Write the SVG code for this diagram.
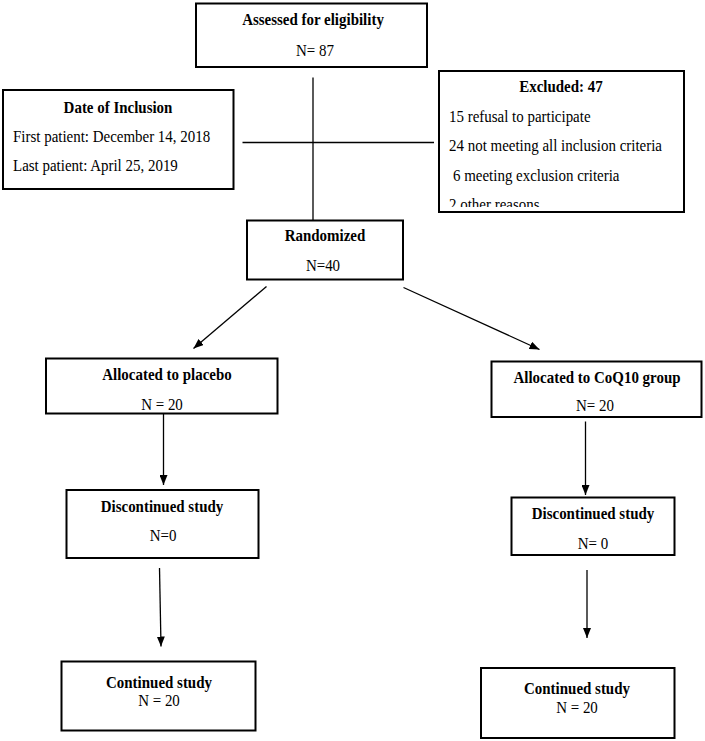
<svg xmlns="http://www.w3.org/2000/svg" width="705" height="741" viewBox="0 0 705 741">
<style>
.box{fill:#fff;stroke:#000;stroke-width:2}
.ln{fill:none;stroke:#000;stroke-width:1.3}
text{font-family:"Liberation Serif","Times New Roman",serif;font-size:17px;fill:#000}
.b{font-weight:bold}
.c{text-anchor:middle}
</style>
<defs>
<marker id="ah" markerUnits="userSpaceOnUse" markerWidth="11" markerHeight="8" refX="10" refY="4" orient="auto">
<path d="M0,0 L10,4 L0,8 z" fill="#000"/>
</marker>
<clipPath id="exclip"><rect x="440" y="185" width="244" height="22"/></clipPath>
</defs>
<rect width="705" height="741" fill="#fff"/>
<g id="connectors">
<line class="ln" x1="313" y1="77.5" x2="313" y2="220.5"/>
<line class="ln" x1="242.5" y1="142.5" x2="434" y2="142.5"/>
<line class="ln" x1="266.5" y1="286.5" x2="193.5" y2="348.5" marker-end="url(#ah)"/>
<line class="ln" x1="403.5" y1="287.5" x2="539.5" y2="349.5" marker-end="url(#ah)"/>
<line class="ln" x1="163.5" y1="414" x2="163.5" y2="485" marker-end="url(#ah)"/>
<line class="ln" x1="585.5" y1="421.5" x2="585.5" y2="495" marker-end="url(#ah)"/>
<line class="ln" x1="159.5" y1="568" x2="161" y2="646.5" marker-end="url(#ah)"/>
<line class="ln" x1="587" y1="570" x2="587" y2="638" marker-end="url(#ah)"/>
</g>
<g id="assessed">
<rect class="box" x="196" y="3.5" width="231" height="63.5"/>
<text class="b c" transform="matrix(0.88 0 0 1 313 25)">Assessed for eligibility</text>
<text class="c" transform="matrix(0.88 0 0 1 315 56)">N= 87</text>
</g>
<g id="date">
<rect class="box" x="3" y="90" width="230.5" height="99"/>
<text class="b c" transform="matrix(0.88 0 0 1 118 112.5)">Date of Inclusion</text>
<text transform="matrix(0.88 0 0 1 13 142)">First patient: December 14, 2018</text>
<text transform="matrix(0.88 0 0 1 13 171)">Last patient: April 25, 2019</text>
</g>
<g id="excluded">
<rect class="box" x="439" y="71" width="245" height="141"/>
<text class="b c" transform="matrix(0.88 0 0 1 561 92)">Excluded: 47</text>
<text transform="matrix(0.88 0 0 1 449 122)">15 refusal to participate</text>
<text transform="matrix(0.88 0 0 1 449 151)">24 not meeting all inclusion criteria</text>
<text transform="matrix(0.88 0 0 1 453 181)">6 meeting exclusion criteria</text>
<g clip-path="url(#exclip)"><text transform="matrix(0.88 0 0 1 449 210)">2 other reasons</text></g>
</g>
<g id="randomized">
<rect class="box" x="247" y="220.5" width="156" height="59"/>
<text class="b c" transform="matrix(0.88 0 0 1 325 241)">Randomized</text>
<text class="c" transform="matrix(0.88 0 0 1 323 271)">N=40</text>
</g>
<g id="placebo">
<rect class="box" x="46" y="358.5" width="231.5" height="55"/>
<text class="b c" transform="matrix(0.88 0 0 1 167 380)">Allocated to placebo</text>
<text class="c" transform="matrix(0.88 0 0 1 162 409.5)">N = 20</text>
</g>
<g id="coq10">
<rect class="box" x="491.5" y="361.5" width="210" height="55.5"/>
<text class="b c" transform="matrix(0.88 0 0 1 597 382.5)">Allocated to CoQ10 group</text>
<text class="c" transform="matrix(0.88 0 0 1 595 411)">N= 20</text>
</g>
<g id="disc-placebo">
<rect class="box" x="66.5" y="490" width="192" height="68"/>
<text class="b c" transform="matrix(0.88 0 0 1 162 511.5)">Discontinued study</text>
<text class="c" transform="matrix(0.88 0 0 1 163 541)">N=0</text>
</g>
<g id="disc-coq10">
<rect class="box" x="511.5" y="497.5" width="163" height="57.5"/>
<text class="b c" transform="matrix(0.88 0 0 1 593 519)">Discontinued study</text>
<text class="c" transform="matrix(0.88 0 0 1 593 548.5)">N= 0</text>
</g>
<g id="cont-placebo">
<rect class="box" x="61.5" y="661.5" width="194" height="69"/>
<text class="b c" transform="matrix(0.88 0 0 1 159 687.5)">Continued study</text>
<text class="c" transform="matrix(0.88 0 0 1 159 706)">N = 20</text>
</g>
<g id="cont-coq10">
<rect class="box" x="481" y="668" width="193.5" height="70"/>
<text class="b c" transform="matrix(0.88 0 0 1 577 694)">Continued study</text>
<text class="c" transform="matrix(0.88 0 0 1 577 712.5)">N = 20</text>
</g>
</svg>
